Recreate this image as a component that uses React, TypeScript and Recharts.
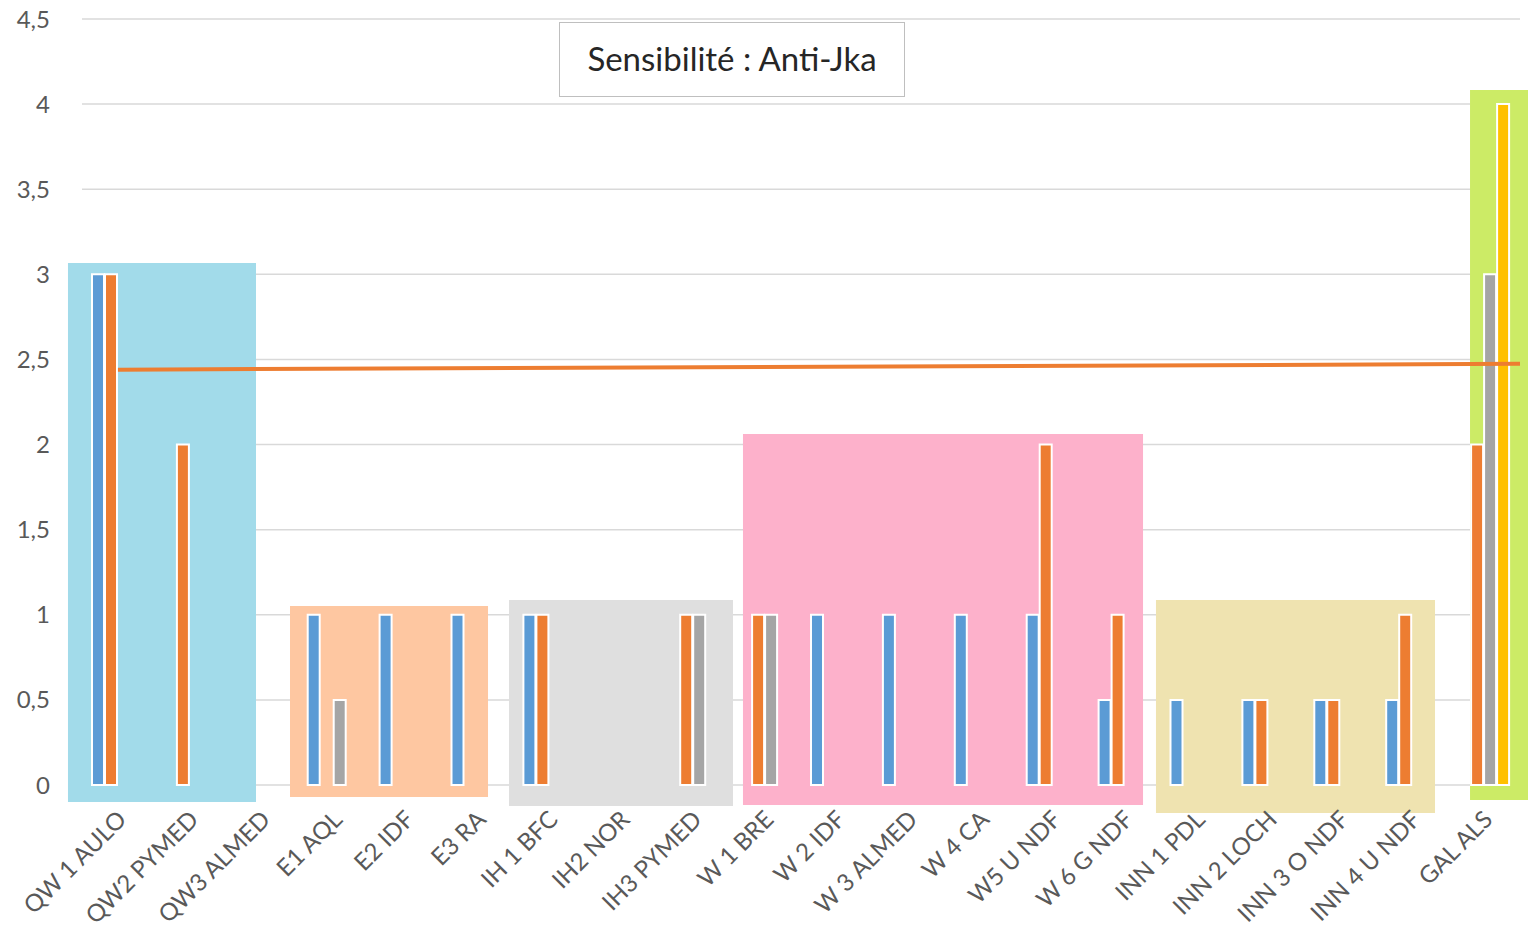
import React from "react";
import {
  ComposedChart,
  Bar,
  XAxis,
  YAxis,
  CartesianGrid,
  ReferenceArea,
  ReferenceLine,
} from "recharts";

const categories = [
  "QW 1 AULO", "QW2 PYMED", "QW3 ALMED", "E1 AQL", "E2 IDF", "E3 RA",
  "IH 1 BFC", "IH2 NOR", "IH3 PYMED", "W 1 BRE", "W 2 IDF", "W 3 ALMED",
  "W 4 CA", "W5 U NDF", "W 6 G NDF", "INN 1 PDL", "INN 2 LOCH", "INN 3 O NDF",
  "INN 4 U NDF", "GAL ALS",
];

const blueValues = [3, null, null, 1, 1, 1, 1, null, null, null, 1, 1, 1, 1, 0.5, 0.5, 0.5, 0.5, 0.5, null];
const orangeValues = [3, 2, null, null, null, null, 1, null, 1, 1, null, null, null, 2, 1, null, 0.5, 0.5, 1, 2];
const grayValues = [null, null, null, 0.5, null, null, null, null, 1, 1, null, null, null, null, null, null, null, null, null, 3];
const yellowValues = [null, null, null, null, null, null, null, null, null, null, null, null, null, null, null, null, null, null, null, 4];

const yTicks = [0, 0.5, 1, 1.5, 2, 2.5, 3, 3.5, 4, 4.5];

// linear trend (position on a 0..20 category scale, value)
const trendX = [0.5, 20];
const trendY = [2.44, 2.474];

// group highlight boxes, in category units / value units
const groupBoxes = [
  { x1: -0.195, x2: 2.42, y1: -0.1, y2: 3.067, fill: "#A2DBEA" },
  { x1: 2.893, x2: 5.647, y1: -0.07, y2: 1.052, fill: "#FEC7A1" },
  { x1: 5.939, x2: 9.054, y1: -0.123, y2: 1.087, fill: "#DFDFDF" },
  { x1: 9.193, x2: 14.757, y1: -0.118, y2: 2.062, fill: "#FDB1CB" },
  { x1: 14.937, x2: 18.818, y1: -0.165, y2: 1.087, fill: "#EFE3B0" },
  { x1: 19.305, x2: 20.12, y1: -0.088, y2: 4.083, fill: "#CCEB66" },
];

const data = categories.map((name, i) => ({
  name,
  pos: i + 0.5,
  blue: blueValues[i],
  orange: orangeValues[i],
  gray: grayValues[i],
  yellow: yellowValues[i],
}));

const xTicks = categories.map((_, i) => i + 0.5);

const FONT = "Lato, 'Open Sans', sans-serif";

function XTick({ x, y, payload }: any) {
  const label = categories[Math.round(payload.value - 0.5)];
  return (
    <g transform={`translate(${x + 10},${y + 28})`}>
      <text
        transform="rotate(-45)"
        textAnchor="end"
        fill="#595959"
        fontSize={24}
        fontFamily={FONT}
      >
        {label}
      </text>
    </g>
  );
}

export default function App() {
  return (
    <div style={{ position: "relative", width: 1528, height: 937, background: "#fff" }}>
      <style>{`body{margin:0}`}</style>
      <ComposedChart
        width={1528}
        height={937}
        data={data}
        margin={{ top: 19, right: 8, left: 22, bottom: 0 }}
        barSize={12}
        barGap={1}
      >
        <XAxis
          dataKey="pos"
          type="number"
          domain={[0, 20]}
          allowDataOverflow
          ticks={xTicks}
          interval={0}
          height={152}
          axisLine={false}
          tickLine={false}
          tick={<XTick />}
        />
        <YAxis
          width={60}
          domain={[0, 4.5]}
          ticks={yTicks}
          axisLine={false}
          tickLine={false}
          tickMargin={26}
          tickFormatter={(v: number) => String(v).replace(".", ",")}
          tick={{ fontSize: 24, fill: "#595959", fontFamily: FONT }}
        />
        {groupBoxes.map((b, i) => (
          <ReferenceArea
            key={i}
            x1={b.x1}
            x2={b.x2}
            y1={b.y1}
            y2={b.y2}
            fill={b.fill}
            fillOpacity={1}
            stroke="none"
            ifOverflow="visible"
          />
        ))}
        <CartesianGrid vertical={false} stroke="#D9D9D9" strokeWidth={1.5} />
        <Bar dataKey="blue" fill="#5B9BD5" stroke="#fff" strokeWidth={2} isAnimationActive={false} />
        <Bar dataKey="orange" fill="#ED7D31" stroke="#fff" strokeWidth={2} isAnimationActive={false} />
        <Bar dataKey="gray" fill="#A5A5A5" stroke="#fff" strokeWidth={2} isAnimationActive={false} />
        <Bar dataKey="yellow" fill="#FFC000" stroke="#fff" strokeWidth={2} isAnimationActive={false} />
        <ReferenceLine
          segment={[
            { x: trendX[0], y: trendY[0] },
            { x: trendX[1], y: trendY[1] },
          ]}
          stroke="#ED7D31"
          strokeWidth={4}
          ifOverflow="visible"
        />
      </ComposedChart>
      <div
        style={{
          position: "absolute",
          left: 559,
          top: 22,
          width: 346,
          height: 75,
          boxSizing: "border-box",
          border: "1.5px solid #BFBFBF",
          background: "#fff",
          display: "flex",
          alignItems: "center",
          justifyContent: "center",
          paddingBottom: 4,
          fontFamily: FONT,
          fontSize: 33,
          color: "#262626",
        }}
      >
        Sensibilité : Anti-Jka
      </div>
    </div>
  );
}
